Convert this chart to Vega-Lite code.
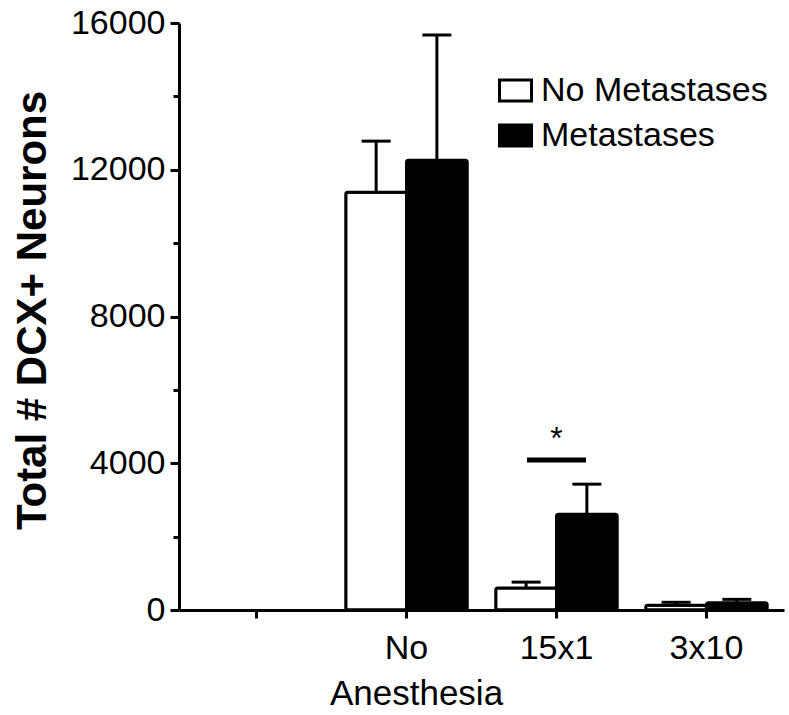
{
  "$schema": "https://vega.github.io/schema/vega-lite/v6.json",
  "width": 605,
  "height": 587,
  "autosize": {"type": "none"},
  "padding": {"left": 179, "top": 23, "right": 5, "bottom": 105},
  "background": "white",
  "config": {
    "view": {"stroke": null},
    "font": "Liberation Sans",
    "axis": {
      "domainColor": "black",
      "tickColor": "black",
      "labelColor": "black",
      "titleColor": "black",
      "domainWidth": 3,
      "tickWidth": 3,
      "grid": false,
      "labelFont": "Liberation Sans",
      "titleFont": "Liberation Sans"
    }
  },
  "datasets": {
    "bars": [
      {"anesthesia": "No", "group": "No Metastases", "mean": 11390, "upper": 12780},
      {"anesthesia": "No", "group": "Metastases", "mean": 12260, "upper": 15670},
      {"anesthesia": "15x1", "group": "No Metastases", "mean": 600, "upper": 760},
      {"anesthesia": "15x1", "group": "Metastases", "mean": 2610, "upper": 3430},
      {"anesthesia": "3x10", "group": "No Metastases", "mean": 130, "upper": 210},
      {"anesthesia": "3x10", "group": "Metastases", "mean": 200, "upper": 290}
    ],
    "sig": [
      {"anesthesia": "15x1", "line": 4090, "star": 4390, "label": "*"}
    ]
  },
  "layer": [
    {
      "data": {"name": "bars"},
      "mark": {"type": "bar", "stroke": "black", "strokeWidth": 3, "cornerRadius": 2},
      "encoding": {
        "x": {
          "field": "anesthesia", "type": "nominal", "title": "Anesthesia",
          "scale": {"domain": [" ", "No", "15x1", "3x10"], "paddingInner": 0.19, "paddingOuter": 0.112},
          "axis": {
            "labelFontSize": 34, "labelAngle": 0, "labelBaseline": "alphabetic",
            "tickSize": 8, "labelPadding": 40,
            "titleFontSize": 35, "titleFontWeight": "normal",
            "titleX": 237, "titleY": 94, "titleBaseline": "alphabetic", "titleAlign": "center"
          }
        },
        "xOffset": {
          "field": "group", "type": "nominal",
          "scale": {"domain": ["No Metastases", "Metastases"], "paddingInner": 0, "paddingOuter": 0}
        },
        "y": {
          "field": "mean", "type": "quantitative", "title": "Total # DCX+ Neurons",
          "scale": {"domain": [0, 16000], "nice": false},
          "axis": {
            "values": [0, 2000, 4000, 6000, 8000, 10000, 12000, 14000, 16000],
            "format": "d",
            "labelExpr": "datum.value % 4000 === 0 ? datum.label : ''",
            "tickSize": {"condition": {"test": "datum.value % 4000 === 0", "value": 9}, "value": 6},
            "labelPadding": 5, "labelFontSize": 34,
            "labelFlush": false, "labelOverlap": false, "labelBaseline": "middle",
            "titleFont": "Liberation Sans", "titleFontSize": 42, "titleFontWeight": "bold",
            "titleAngle": -90, "titleX": -134, "titleY": 287,
            "titleBaseline": "alphabetic", "titleAlign": "center"
          }
        },
        "fill": {
          "field": "group", "type": "nominal",
          "scale": {"domain": ["No Metastases", "Metastases"], "range": ["white", "black"]},
          "legend": {
            "title": null, "orient": "none", "legendX": 319, "legendY": 50,
            "symbolType": "M-1,-0.65H1V0.65H-1Z", "symbolSize": 1024,
            "symbolStrokeColor": "black", "symbolStrokeWidth": 3,
            "labelFontSize": 34, "labelFont": "Liberation Sans", "labelColor": "black",
            "labelLimit": 400,
            "labelOffset": 8, "rowPadding": 10, "padding": 0
          }
        }
      }
    },
    {
      "data": {"name": "bars"},
      "mark": {"type": "rule", "strokeWidth": 3, "color": "black"},
      "encoding": {
        "x": {"field": "anesthesia", "type": "nominal"},
        "xOffset": {"field": "group", "type": "nominal"},
        "y": {"field": "mean", "type": "quantitative"},
        "y2": {"field": "upper"}
      }
    },
    {
      "data": {"name": "bars"},
      "mark": {"type": "tick", "orient": "horizontal", "color": "black", "thickness": 3, "size": 29, "opacity": 1},
      "encoding": {
        "x": {"field": "anesthesia", "type": "nominal"},
        "xOffset": {"field": "group", "type": "nominal"},
        "y": {"field": "upper", "type": "quantitative"}
      }
    },
    {
      "data": {"name": "sig"},
      "mark": {"type": "tick", "orient": "horizontal", "color": "black", "thickness": 5, "size": 59, "opacity": 1},
      "encoding": {
        "x": {"field": "anesthesia", "type": "nominal"},
        "y": {"field": "line", "type": "quantitative"}
      }
    },
    {
      "data": {"name": "sig"},
      "mark": {"type": "text", "fontSize": 32, "baseline": "alphabetic", "align": "center", "color": "black", "font": "Liberation Sans"},
      "encoding": {
        "x": {"field": "anesthesia", "type": "nominal"},
        "y": {"field": "star", "type": "quantitative"},
        "text": {"field": "label"}
      }
    }
  ]
}
